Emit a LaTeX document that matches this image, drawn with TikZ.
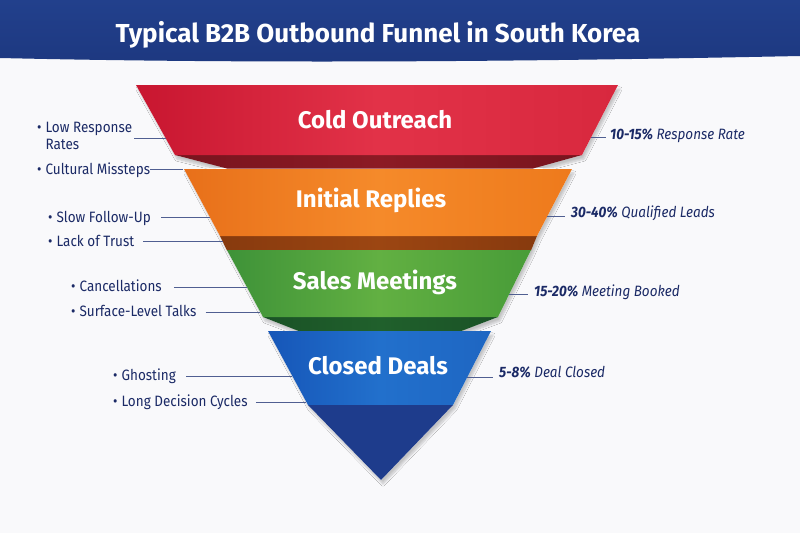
\documentclass[tikz,border=0pt]{standalone}
\usepackage{fontspec}
\setmainfont{Fira Sans}
\newfontfamily\lblfont[FakeStretch=0.9]{Fira Sans}
\usetikzlibrary{shadows.blur,calc}
\definecolor{bgc}{RGB}{249,249,251}
\definecolor{hdrtop}{RGB}{34,64,140}
\definecolor{hdrbot}{RGB}{29,56,128}
\definecolor{navy}{RGB}{27,42,102}
\definecolor{linec}{RGB}{80,95,145}
\definecolor{redL}{RGB}{200,22,48}
\definecolor{redM}{RGB}{226,50,72}
\definecolor{redR}{RGB}{216,40,62}
\definecolor{redU}{RGB}{140,26,36}
\definecolor{redU2}{RGB}{120,20,30}
\definecolor{orL}{RGB}{232,112,26}
\definecolor{orM}{RGB}{245,138,42}
\definecolor{orR}{RGB}{238,122,28}
\definecolor{orU}{RGB}{156,70,18}
\definecolor{orU2}{RGB}{135,58,14}
\definecolor{grL}{RGB}{62,146,56}
\definecolor{grM}{RGB}{98,176,66}
\definecolor{grR}{RGB}{72,156,56}
\definecolor{grU}{RGB}{32,96,44}
\definecolor{grU2}{RGB}{26,82,38}
\definecolor{blL}{RGB}{22,86,184}
\definecolor{blM}{RGB}{34,112,204}
\definecolor{blR}{RGB}{30,102,194}
\definecolor{blD}{RGB}{30,60,140}
\tikzset{
  stage/.style={font=\fontsize{24}{28}\selectfont\bfseries, text=white, inner sep=0pt},
  lbl/.style={font=\lblfont\fontsize{15}{17}\selectfont, text=navy, inner sep=0pt, anchor=base west},
  conn/.style={draw=linec, line width=0.9pt},
}
\begin{document}
\begin{tikzpicture}[x=1pt,y=-1pt]
\useasboundingbox (0,0) rectangle (800,533);
\fill[bgc] (0,0) rectangle (800,533);
% header
\shade[top color=hdrtop, bottom color=hdrbot] (0,0) -- (800,0) -- (800,56) .. controls (600,60) and (300,65) .. (0,58) -- cycle;
\node[font=\fontsize{26}{30}\selectfont\bfseries, text=white, inner sep=0pt] (title) at (378,35) {Typical B2B Outbound Funnel in South Korea};

% funnel silhouette with soft shadow
\fill[white, blur shadow={shadow xshift=2pt, shadow yshift=-4pt, shadow blur steps=8, shadow opacity=22}]
 (136,85) -- (618,85) -- (582,155) -- (533,168) -- (572,169) -- (537,236) -- (531,250)
 -- (498,317) -- (460,331) -- (491,331) -- (453,405) -- (381,480) -- (308,405) -- (268,331)
 -- (300,331) -- (263,317) -- (227,250) -- (220,236) -- (184,169) -- (227,168) -- (175,155) -- cycle;

% red stage
\shade[left color=redU2, right color=redU2, middle color=redU] (175,155) -- (582,155) -- (533,168.5) -- (227,168.5) -- cycle;
\shade[left color=redL, right color=redR, middle color=redM] (136,85) -- (618,85) -- (582,155) -- (175,155) -- cycle;
% orange stage
\shade[left color=orU2, right color=orU2, middle color=orU] (220,236) -- (537,236) -- (531,250.5) -- (227,250.5) -- cycle;
\shade[left color=orL, right color=orR, middle color=orM] (184,169) -- (572,169) -- (537,236) -- (220,236) -- cycle;
% green stage
\shade[left color=grU2, right color=grU2, middle color=grU] (263,317) -- (498,317) -- (460,331.5) -- (300,331.5) -- cycle;
\shade[left color=grL, right color=grR, middle color=grM] (227,250) -- (531,250) -- (498,317) -- (263,317) -- cycle;
% blue stage
\shade[left color=blL, right color=blR, middle color=blM] (268,331) -- (491,331) -- (453,405) -- (308,405) -- cycle;
\fill[blD] (308,405) -- (453,405) -- (381,480) -- cycle;

% stage labels
\node[stage] (cold) at (375,119.5) {Cold Outreach};
\node[stage] (init) at (371,200) {Initial Replies};
\node[stage] (sales) at (375,282) {Sales Meetings};
\node[stage] (closed) at (378,365.5) {Closed Deals};

% edge coordinates
\coordinate (e1) at (165.5,138);
\coordinate (e2) at (183,169);
\coordinate (e3) at (209.8,217);
\coordinate (e4) at (222.5,241);
\coordinate (e5) at (246.9,287);
\coordinate (e6) at (260.3,312);
\coordinate (e7) at (292.3,376);
\coordinate (e8) at (306.4,402);
\coordinate (r1) at (591.3,137);
\coordinate (r2) at (547.4,216);
\coordinate (r3) at (509.3,294);
\coordinate (r4) at (467.4,377);

% left labels
\node[lbl, align=left] (l1) at (37,149) {\textbullet\hspace{4pt}Low Response\\\hphantom{\textbullet\hspace{4pt}}Rates};
\node[lbl] (l2) at (37,174) {\textbullet\hspace{4pt}Cultural Missteps};
\node[lbl] (l3) at (48,222) {\textbullet\hspace{4pt}Slow Follow-Up};
\node[lbl] (l4) at (48,246) {\textbullet\hspace{4pt}Lack of Trust};
\node[lbl] (l5) at (71,291) {\textbullet\hspace{4pt}Cancellations};
\node[lbl] (l6) at (71,316) {\textbullet\hspace{4pt}Surface-Level Talks};
\node[lbl] (l7) at (113,380.5) {\textbullet\hspace{4pt}Ghosting};
\node[lbl] (l8) at (113,406.5) {\textbullet\hspace{4pt}Long Decision Cycles};

\draw[conn] (e1 -| l1.east) ++(2,0) -- (e1);
\draw[conn] (e2 -| l2.east) -- (e2);
\draw[conn] (e3 -| l3.east) ++(10,0) -- (e3);
\draw[conn] (e4 -| l4.east) ++(9,0) -- (e4);
\draw[conn] (e5 -| l5.east) ++(12,0) -- (e5);
\draw[conn] (e6 -| l6.east) ++(9,0) -- (e6);
\draw[conn] (e7 -| l7.east) ++(10,0) -- (e7);
\draw[conn] (e8 -| l8.east) ++(8,0) -- (e8);

% right labels
\node[lbl] (m1) at (610,139) {\textbf{\textit{10-15\%}} \textit{Response Rate}};
\node[lbl] (m2) at (571,217.5) {\textbf{\textit{30-40\%}} \textit{Qualified Leads}};
\node[lbl] (m3) at (534,296) {\textbf{\textit{15-20\%}} \textit{Meeting Booked}};
\node[lbl] (m4) at (499,377) {\textbf{\textit{5-8\%}} \textit{Deal Closed}};

\draw[conn] (r1) -- ($(r1 -| m1.west)+(-4,0)$);
\draw[conn] (r2) -- ($(r2 -| m2.west)+(-6,0)$);
\draw[conn] (r3) -- ($(r3 -| m3.west)+(-6,0)$);
\draw[conn] (r4) -- ($(r4 -| m4.west)+(-6,0)$);
\end{tikzpicture}
\end{document}
